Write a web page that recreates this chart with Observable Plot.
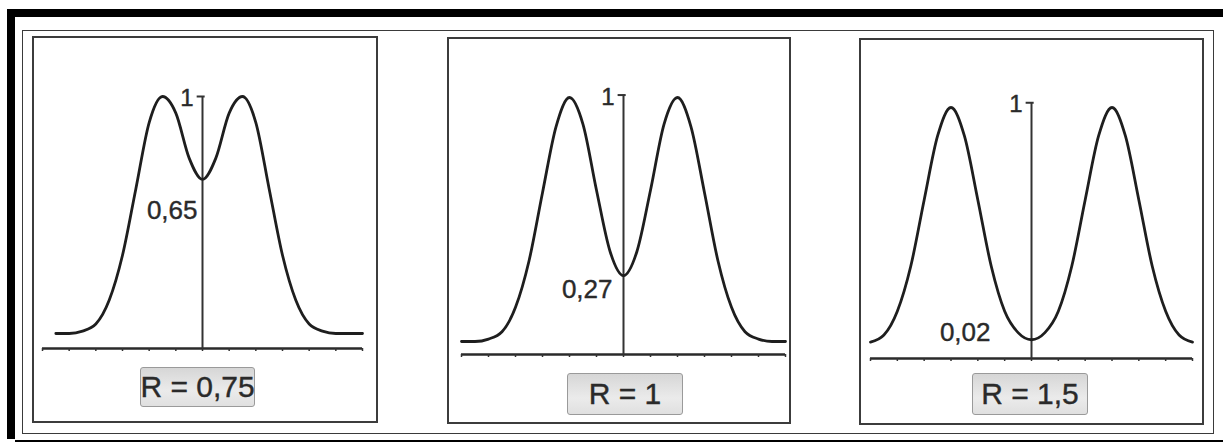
<!DOCTYPE html>
<html>
<head>
<meta charset="utf-8">
<script src="https://cdn.jsdelivr.net/npm/d3@7"></script>
<script src="https://cdn.jsdelivr.net/npm/@observablehq/plot@0.6"></script>
<style>
  html, body { margin: 0; padding: 0; background: #fff; }
  #root { position: relative; width: 1223px; height: 442px; overflow: hidden;
          font-family: "Liberation Sans", Arial, sans-serif; background: #fff; }
  .abs { position: absolute; box-sizing: border-box; }
  .plotwrap svg { background: transparent; display: block; }
  .blk { background: #000; }
  .inner { border: 1.5px solid #3a3a3a; }
  .panel { border: 2.5px solid #3c3c3c; }
  .rlabel { background: linear-gradient(#d6d6d6, #ebebeb 60%, #e0e0e0);
            border: 1px solid #9a9a9a; border-radius: 3px; color: #2a2a2a;
            font-size: 30px; display: flex; align-items: center; justify-content: center;
            line-height: 1; white-space: pre; -webkit-text-stroke: 0.4px #2a2a2a; }
</style>
</head>
<body>
<div id="root"></div>
<script>
// ---------- data ----------
// x positions (in units of sigma, ticks at every unit)
const xs = [-6, -5.5, -5, -4.5, -4, -3.5, -3, -2.5, -2, -1.5, -1, -0.5, 0,
            0.5, 1, 1.5, 2, 2.5, 3, 3.5, 4, 4.5, 5, 5.5, 6];
// relative intensity for each resolution
const yR075 = [null, 0.00, 0.00, 0.01, 0.04, 0.14, 0.33, 0.61, 0.89, 1.00, 0.93, 0.74, 0.65,
               0.74, 0.93, 1.00, 0.89, 0.61, 0.33, 0.14, 0.04, 0.01, 0.00, 0.00, 0.00];
const yR1   = [0.00, 0.00, 0.01, 0.04, 0.14, 0.33, 0.61, 0.88, 1.00, 0.89, 0.62, 0.37, 0.27,
               0.37, 0.62, 0.89, 1.00, 0.88, 0.61, 0.33, 0.14, 0.04, 0.01, 0.00, 0.00];
const yR15  = [0.01, 0.04, 0.14, 0.33, 0.61, 0.88, 1.00, 0.88, 0.61, 0.33, 0.14, 0.05, 0.02,
               0.05, 0.14, 0.33, 0.61, 0.88, 1.00, 0.88, 0.61, 0.33, 0.14, 0.04, 0.01];
const series = [yR075, yR1, yR15];
const rLabels = ["R = 0,75", "R = 1", "R = 1,5"];
const valleyValues = [0.65, 0.27, 0.02];
const valleyLabels = ["0,65", "0,27", "0,02"];
const peakLabel = "1";
const xTicks = [-6, -5, -4, -3, -2, -1, 0, 1, 2, 3, 4, 5, 6];

// ---------- layout (pixels) ----------
const layout = [
  {left: 32,  top: 36, w: 346, h: 387, x0: 42,  x1: 362,  zeroY: 333, oneY: 96,  axisY: 348, oneTick: 1.00,
   vdx: -5,  vdy: 31, box: {l: 140, t: 367, w: 115, h: 40}},
  {left: 447, top: 37, w: 344, h: 387, x0: 461, x1: 785,  zeroY: 341, oneY: 97,  axisY: 354, oneTick: 1.01,
   vdx: -11, vdy: 14, box: {l: 567, t: 373, w: 116, h: 42}},
  {left: 859, top: 38, w: 345, h: 387, x0: 870, x1: 1192, zeroY: 344, oneY: 107, axisY: 358, oneTick: 1.02,
   vdx: -41, vdy: -7, box: {l: 972, t: 373, w: 116, h: 42}}
];

const root = document.getElementById("root");
function addDiv(cls, l, t, w, h, text) {
  const d = document.createElement("div");
  d.className = "abs " + cls;
  Object.assign(d.style, {left: l + "px", top: t + "px", width: w + "px", height: h + "px"});
  if (text != null) d.textContent = text;
  root.appendChild(d);
  return d;
}

const font = "'Liberation Sans', Arial, sans-serif";
const ink = "#1e1e1e";

layout.forEach((L, i) => {
  const rows = xs.map((x, j) => ({x, y: series[i][j]}));
  const axisVal = -(L.axisY - L.zeroY) / (L.zeroY - L.oneY);
  const chart = Plot.plot({
    width: L.w,
    height: 442,
    marginLeft: L.x0 - L.left,
    marginRight: (L.left + L.w) - L.x1,
    marginTop: L.oneY,
    marginBottom: 442 - L.axisY,
    style: {background: "transparent", overflow: "visible"},
    x: {domain: [-6, 6], label: null},
    y: {domain: [axisVal, 1], axis: null, label: null},
    marks: [
      Plot.ruleY([axisVal], {x1: -6, x2: 6, stroke: "#2a2a2a", strokeWidth: 2.5}),
      Plot.axisX(xTicks, {tickSize: 3, tickFormat: () => "", label: null, stroke: "#333", strokeWidth: 1.5}),
      Plot.ruleX([0], {y1: axisVal, y2: L.oneTick, stroke: "#333", strokeWidth: 2}),
      Plot.ruleY([L.oneTick], {x1: -0.2, x2: 0.1, stroke: "#333", strokeWidth: 2}),
      Plot.line(rows, {x: "x", y: "y", curve: "monotone-x", stroke: ink, strokeWidth: 2.8}),
      Plot.text([peakLabel], {x: 0, y: L.oneTick, text: d => d, textAnchor: "end", lineAnchor: "middle",
                 dx: -9, dy: 2, fontSize: 24, fill: "#2a2a2a", stroke: "#2a2a2a", strokeWidth: 0.4, fontFamily: font}),
      Plot.text([valleyLabels[i]], {x: 0, y: valleyValues[i], text: d => d, textAnchor: "end", lineAnchor: "middle",
                 dx: L.vdx, dy: L.vdy, fontSize: 26, fill: "#2a2a2a", stroke: "#2a2a2a", strokeWidth: 0.4, fontFamily: font})
    ]
  });
  const wrap = addDiv("plotwrap", L.left, 0, L.w, 442);
  wrap.appendChild(chart);
});

// frames drawn on top
addDiv("blk", 7, 9, 1216, 8);
addDiv("blk", 7, 9, 8, 430);
addDiv("blk", 15, 440, 1208, 2);
addDiv("inner", 22, 30, 1192, 404);
layout.forEach((L, i) => {
  addDiv("panel", L.left, L.top, L.w, L.h);
  addDiv("rlabel", L.box.l, L.box.t, L.box.w, L.box.h, rLabels[i]);
});
</script>
</body>
</html>
